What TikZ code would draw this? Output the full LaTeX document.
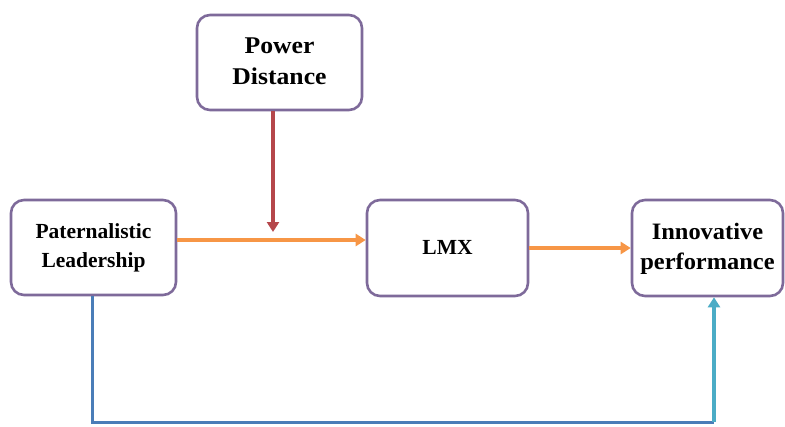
\documentclass[tikz,border=0pt]{standalone}
\usepackage{fontspec}
\setmainfont{Liberation Serif}
\usetikzlibrary{arrows.meta}
\definecolor{boxpurple}{HTML}{7E6A9A}
\definecolor{arrorange}{HTML}{F79646}
\definecolor{arrred}{HTML}{B5474B}
\definecolor{blueA}{HTML}{4A7DB8}
\definecolor{blueB}{HTML}{4BACC6}
\tikzset{
  varbox/.style={draw=boxpurple, line width=2.6pt, rounded corners=13pt, fill=white,
    inner sep=0pt, anchor=center},
  conn/.style={line width=#1, -{Triangle[length=10pt,width=12pt]}},
}
\newcommand{\boxtxt}[5]{\raisebox{#3pt}{\scalebox{#4}[1]{\fontsize{#1}{#2}\selectfont\bfseries\begin{tabular}{@{}c@{}}#5\end{tabular}}}}
\begin{document}
\begin{tikzpicture}[x=1pt,y=-1pt]
\useasboundingbox (0,0) rectangle (785,426);
\node[varbox, minimum width=165pt, minimum height=95pt] (pd) at (279.5,62.5) {\boxtxt{24}{31}{1}{1.07}{Power\\Distance}};
\node[varbox, minimum width=165pt, minimum height=95pt] (pl) at (93.5,247.5) {\boxtxt{21.5}{29}{4.8}{1.0}{Paternalistic\\Leadership}};
\node[varbox, minimum width=161pt, minimum height=96pt] (lmx) at (447.5,248) {\boxtxt{21.5}{30}{3}{1.0}{LMX}};
\node[varbox, minimum width=151pt, minimum height=96pt] (ip) at (707.5,248) {\boxtxt{23.5}{30}{2}{1.04}{Innovative\\performance}};
\coordinate (o1) at (0,240);
\coordinate (rx) at (273,232);
\coordinate (bl) at (92,422);
\coordinate (br) at (714,422);
\draw[conn=4pt, arrorange] (pl.east |- o1) -- (lmx.west |- o1);
\draw[conn=3.5pt, arrred] (pd.south -| rx) -- (rx);
\draw[conn=4pt, arrorange] (lmx.east) -- (ip.west);
\draw[line width=3pt, blueA] (pl.south -| bl) -- (bl) -- (br);
\draw[conn=3.5pt, blueB] (br) -- (ip.south -| br);
\end{tikzpicture}
\end{document}
